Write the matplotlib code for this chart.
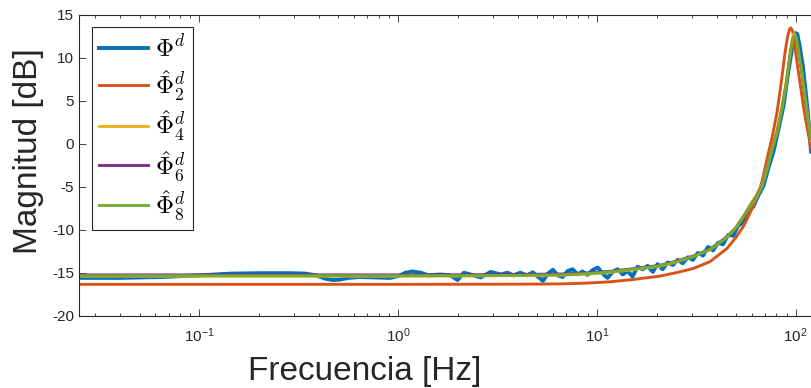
import numpy as np
import matplotlib
matplotlib.use('Agg')
from matplotlib import pyplot as plt
from matplotlib.ticker import LogLocator, NullFormatter

plt.rcParams['font.family'] = ['Liberation Sans', 'DejaVu Sans']
plt.rcParams['mathtext.fontset'] = 'cm'
plt.rcParams['axes.unicode_minus'] = False

# datos
freq_medida = [0.025, 0.04, 0.064, 0.1, 0.144, 0.203, 0.288, 0.342, 0.385, 0.432, 0.47, 0.51,
               0.56, 0.64, 0.77, 0.91, 1.0, 1.09, 1.18, 1.30, 1.42, 1.63, 1.83, 1.99, 2.14,
               2.31, 2.60, 2.92, 3.28, 3.55, 3.8, 4.11, 4.45, 4.76, 5.35, 5.66, 6.0, 6.35,
               6.72, 7.12, 7.55, 8.0, 8.46, 8.96, 9.5, 10.1, 10.7, 11.3, 12.0, 12.7, 13.5,
               14.3, 15.1, 16.0, 17.0, 18.0, 19.1, 20.2, 21.4, 22.7, 24.1, 25.5, 27.0, 28.7,
               30.4, 32.2, 34.2, 36.2, 38.4, 40.7, 43.1, 45.7, 48.5, 51.4, 54.5, 57.7, 61.2,
               64.9, 68.8, 72.9, 77.3, 81.9, 86.8, 92.0, 96.5, 99.7, 101.9, 105.0, 108.7,
               112.3, 114.9, 119.4]
mag_medida = [-15.6, -15.6, -15.5, -15.3, -15.1, -15.05, -15.05, -15.1, -15.3, -15.7, -15.85,
              -15.8, -15.6, -15.5, -15.55, -15.6, -15.4, -15.0, -14.85, -15.0, -15.3, -15.2,
              -15.3, -15.85, -15.0, -15.2, -15.55, -14.9, -15.2, -15.0, -15.3, -15.0, -15.3,
              -14.95, -15.95, -15.1, -14.65, -15.3, -15.5, -14.8, -14.6, -15.2, -14.85,
              -15.25, -14.7, -14.4, -15.1, -15.6, -14.9, -14.6, -15.2, -14.8, -15.45, -14.3,
              -14.6, -14.2, -14.9, -14.0, -14.6, -13.8, -14.1, -13.5, -13.9, -13.2, -13.5,
              -12.7, -13.0, -12.0, -12.4, -11.5, -11.7, -10.6, -10.7, -9.5, -9.2, -7.9,
              -7.3, -6.0, -4.9, -2.8, -0.9, 1.7, 4.4, 8.5, 11.5, 12.9, 12.8, 11.2, 9.0,
              6.0, 3.8, -0.9]

freq_2 = [0.025, 1, 4, 6.5, 9, 11.7, 15, 20.6, 25, 30.6, 37.1, 45, 50, 54.6, 59, 63.7, 68,
          72, 75.7, 80.5, 85.1, 88, 90, 91.5, 93, 94.4, 95.8, 97, 98.7, 100.4, 105, 110, 115,
          119.4]
mag_2 = [-16.35, -16.35, -16.33, -16.3, -16.2, -16.05, -15.8, -15.4, -15.0, -14.5, -13.7,
         -12.2, -10.9, -9.6, -8.0, -6.3, -4.2, -1.6, 0.5, 3.6, 7.6, 10.3, 11.8, 12.7, 13.3,
         13.5, 13.3, 12.9, 11.8, 10.3, 7.2, 4.0, 1.5, -0.5]

freq_ajuste = [0.025, 0.1, 0.5, 1, 2, 4, 6.5, 9, 11.7, 15, 20.6, 25, 30.6, 37.1, 45, 50,
               54.6, 59, 63.7, 68, 72.6, 75.7, 80.5, 85.1, 90.1, 93.6, 96.5, 98, 99.5, 101,
               103, 106.3, 109, 112.3, 115, 117.4, 119.4]
mag_4 = [-15.4, -15.4, -15.4, -15.4, -15.38, -15.33, -15.28, -15.15, -14.95, -14.65, -14.25,
         -13.75, -13.1, -12.3, -10.8, -9.7, -8.4, -7.1, -5.9, -4.6, -2.3, -0.6, 1.6, 4.2,
         7.6, 10.6, 12.4, 12.8, 12.7, 12.1, 10.9, 9.0, 7.1, 4.9, 3.0, 1.4, 0.4]
mag_6 = [-15.25, -15.25, -15.25, -15.25, -15.24, -15.2, -15.15, -15.02, -14.83, -14.55,
         -14.15, -13.65, -13.05, -12.25, -10.85, -9.8, -8.5, -7.25, -6.1, -4.8, -2.5, -0.8,
         1.3, 3.9, 7.2, 10.2, 12.0, 12.5, 12.6, 12.1, 11.0, 9.1, 7.2, 5.0, 3.1, 1.5, 0.6]
mag_8 = [-15.35, -15.35, -15.35, -15.35, -15.34, -15.3, -15.25, -15.1, -14.9, -14.6, -14.2,
         -13.7, -13.1, -12.3, -10.9, -9.8, -8.5, -7.3, -6.2, -4.9, -2.6, -0.9, 1.2, 3.9,
         7.2, 10.2, 12.0, 12.5, 12.6, 12.1, 11.0, 9.0, 7.2, 5.0, 3.2, 1.6, 0.6]

etiquetas = [r'$\Phi^d$', r'$\hat{\Phi}^d_2$', r'$\hat{\Phi}^d_4$', r'$\hat{\Phi}^d_6$',
             r'$\hat{\Phi}^d_8$']
cores = ['#0072BD', '#D95319', '#EDB120', '#7E2F8E', '#77AC30']
yticks = [-20, -15, -10, -5, 0, 5, 10, 15]
xticks = [0.1, 1, 10, 100]
xtick_labels = [r'$\mathregular{10^{-1}}$', r'$\mathregular{10^{0}}$',
                r'$\mathregular{10^{1}}$', r'$\mathregular{10^{2}}$']

cinza = '#262626'

fig = plt.figure(figsize=(8.11, 3.88), dpi=100)
ax = fig.add_axes([79 / 811, 1 - 315.7 / 388, 1 - 79 / 811, 300.7 / 388])

ax.plot(freq_medida, mag_medida, color=cores[0], lw=2.8, label=etiquetas[0])
ax.plot(freq_2, mag_2, color=cores[1], lw=2.1, label=etiquetas[1])
ax.plot(freq_ajuste, mag_4, color=cores[2], lw=2.1, label=etiquetas[2])
ax.plot(freq_ajuste, mag_6, color=cores[3], lw=2.1, label=etiquetas[3])
ax.plot(freq_ajuste, mag_8, color=cores[4], lw=2.1, label=etiquetas[4])

ax.set_xscale('log')
ax.set_xlim(0.0248, 119.4)
ax.set_ylim(-20, 15)
ax.set_xticks(xticks)
ax.set_xticklabels(xtick_labels)
ax.xaxis.set_minor_locator(LogLocator(base=10, subs=np.arange(2, 10)))
ax.xaxis.set_minor_formatter(NullFormatter())
ax.set_yticks(yticks)
ax.set_yticklabels([str(v) for v in yticks])

ax.tick_params(which='both', direction='in', top=True, right=False, colors=cinza,
               labelsize=11, width=0.6)
ax.tick_params(which='major', length=5)
ax.tick_params(which='minor', length=2.5)
ax.tick_params(axis='x', pad=8)
for lado in ['left', 'bottom', 'top']:
    ax.spines[lado].set_color(cinza)
    ax.spines[lado].set_linewidth(0.8)
ax.spines['right'].set_visible(False)

ax.set_xlabel('Frecuencia [Hz]', fontsize=24, color=cinza)
ax.set_ylabel('Magnitud [dB]', fontsize=24, color=cinza)
ax.xaxis.set_label_coords(0.39, -0.135)
ax.yaxis.set_label_coords(-0.048, 0.548)

leg = ax.legend(loc='upper left', bbox_to_anchor=(0.0173, 0.959), fontsize=18,
                handlelength=1.95, handletextpad=0.3, labelspacing=0.24,
                borderpad=0.3, borderaxespad=0, fancybox=False, framealpha=1)
leg.get_frame().set_edgecolor(cinza)
leg.get_frame().set_linewidth(0.8)

fig.savefig('out.png', dpi=100)
